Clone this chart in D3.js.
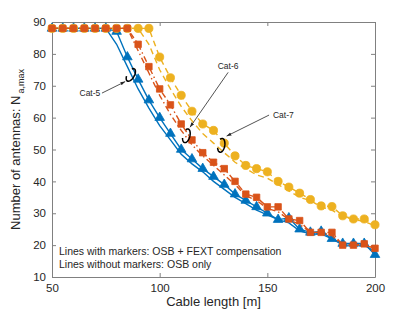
<!DOCTYPE html>
<html>
<head>
<meta charset="utf-8">
<script src="https://cdn.jsdelivr.net/npm/d3@7"></script>
<style>
  body { margin: 0; background: #fff; }
  text { font-family: "Liberation Sans", Arial, sans-serif; fill: #262626; }
</style>
</head>
<body>
<svg id="chart" width="415" height="312"></svg>
<script>
// cable length grid [m]
const lengths = d3.range(50, 201, 5);

// Cat-5 (blue)
const cat5Fext = [88,88,88,88,88,88,87,79,72,65.5,60,55,50,47,44,41.5,39,36,34,32,30,28,28.5,25,24,24.3,22,20.5,20.5,20.5,17];
const cat5Osb  = [88,88,88,88,88,88,83,76,69,63,57.5,53,48.5,45.5,43,40,37.5,35,33,31,29.5,28,27,24.5,23.5,23.5,22,20,20,20,18];
// Cat-6 (orange)
const cat6Fext = [88,88,88,88,88,88,88,88,83,76,69,64,58,53,49,46,44,40,36,35,32,32,28.2,27.7,24,24,24,20,20,20.4,19];
const cat6Osb  = [88,88,88,88,88,88,88,88,81,74,67,61,56,51.5,48,45,42,39,35.5,34,31.5,30.5,28,26.5,24,24,23,20,20,20,19];
// Cat-7 (yellow)
const cat7Fext = [88,88,88,88,88,88,88,88,88,88,79,72.5,67,62,58,56,52,48,45,44,43,40,38.2,36.3,34.3,32.3,32.1,29.2,28.2,28.2,26.4];
const cat7Osb  = [88,88,88,88,88,88,88,88,88,83,75,69,63.5,59,55,52,49,46,44,42,41,39,37,35,34,32,31,29,28,27.5,26];

const xTicks = [50, 100, 150, 200];
const yTicks = [10, 20, 30, 40, 50, 60, 70, 80, 90];

const svg = d3.select("#chart");
const W = +svg.attr("width"), H = +svg.attr("height");
const M = { top: 22, right: 40, bottom: 35, left: 52 };
const IW = W - M.left - M.right, IH = H - M.top - M.bottom;

const x = d3.scaleLinear().domain([50, 200]).range([0, IW]);
const y = d3.scaleLinear().domain([10, 90]).range([IH, 0]);

const g = svg.append("g").attr("transform", `translate(${M.left},${M.top})`);

// axes box with inward ticks on all four sides
const axisColor = "#808080";
function styleAxis(sel) {
  sel.select(".domain").attr("stroke", axisColor);
  sel.selectAll(".tick line").attr("stroke", axisColor);
  sel.selectAll(".tick text").attr("font-size", 11.5).attr("fill", "#262626");
}
g.append("g").attr("transform", `translate(0,${IH})`)
  .call(d3.axisBottom(x).tickValues(xTicks).tickSizeInner(-4).tickSizeOuter(0).tickPadding(7))
  .call(styleAxis);
g.append("g")
  .call(d3.axisTop(x).tickValues(xTicks).tickSizeInner(-4).tickSizeOuter(0).tickFormat(""))
  .call(styleAxis);
g.append("g")
  .call(d3.axisLeft(y).tickValues(yTicks).tickSizeInner(-4).tickSizeOuter(0).tickPadding(6))
  .call(styleAxis);
g.append("g").attr("transform", `translate(${IW},0)`)
  .call(d3.axisRight(y).tickValues(yTicks).tickSizeInner(-4).tickSizeOuter(0).tickFormat(""))
  .call(styleAxis);

// series
const blue = "#0072BD", orange = "#D95319", yellow = "#EDB120";
const series = [
  { vals: cat5Osb,  color: blue,   dash: null,        marker: null },
  { vals: cat5Fext, color: blue,   dash: null,        marker: "tri" },
  { vals: cat7Osb,  color: yellow, dash: "6,4",       marker: null },
  { vals: cat7Fext, color: yellow, dash: "6,4",       marker: "circ" },
  { vals: cat6Osb,  color: orange, dash: "6,3,1.5,3", marker: null },
  { vals: cat6Fext, color: orange, dash: "6,3,1.5,3", marker: "sq" }
];

const line = d3.line().x(d => x(d[0])).y(d => y(d[1]));
const sym = { tri: d3.symbolTriangle, circ: d3.symbolCircle, sq: d3.symbolSquare };
const symSize = { tri: 40, circ: 52, sq: 42 };

series.forEach(s => {
  const pts = lengths.map((l, i) => [l, s.vals[i]]);
  g.append("path")
    .attr("d", line(pts))
    .attr("fill", "none")
    .attr("stroke", s.color)
    .attr("stroke-width", 1.4)
    .attr("stroke-dasharray", s.dash);
  if (s.marker) {
    g.selectAll(null).data(pts).enter().append("path")
      .attr("transform", d => `translate(${x(d[0])},${y(d[1])})`)
      .attr("d", d3.symbol(sym[s.marker], symSize[s.marker]))
      .attr("fill", s.color)
      .attr("stroke", s.color)
      .attr("stroke-width", 0.8);
  }
});

// annotations (data coordinates)
svg.append("defs").append("marker")
  .attr("id", "arr").attr("viewBox", "0 0 10 10").attr("refX", 10).attr("refY", 5)
  .attr("markerWidth", 6).attr("markerHeight", 6).attr("orient", "auto")
  .append("path").attr("d", "M0,1.5L10,5L0,8.5Z").attr("fill", "#262626");

const notes = [
  { label: "Cat-5", tx: 67.6, ty: 67.7, anchor: "middle", from: [73.2, 67.7], to: [84, 71.3], c: [86.6, 73.4], rot: 30, arrow: true },
  { label: "Cat-6", tx: 131.8, ty: 76.3, anchor: "middle", from: [131.8, 74.2], to: [114.1, 57], c: [112.4, 54.3], rot: 15, arrow: true },
  { label: "Cat-7", tx: 152.6, ty: 60.8, anchor: "start", from: [150.8, 60.8], to: [131.1, 54.2], c: [128.6, 51.3], rot: 10, arrow: true }
];

notes.forEach(n => {
  g.append("text")
    .attr("x", x(n.tx))
    .attr("y", y(n.ty))
    .attr("dy", "0.35em")
    .attr("text-anchor", n.anchor)
    .attr("font-size", 8.5)
    .text(n.label);
  g.append("line")
    .attr("x1", x(n.from[0])).attr("y1", y(n.from[1]))
    .attr("x2", x(n.to[0])).attr("y2", y(n.to[1]))
    .attr("stroke", "#262626").attr("stroke-width", 0.8)
    .attr("marker-end", "url(#arr)");
  const cx = x(n.c[0]), cy = y(n.c[1]);
  const arcPts = d3.range(0.15, 1.75, 0.05).map(t => {
    const a = t * Math.PI;
    return [-3.5 * Math.cos(a), 7 * Math.sin(a)];
  });
  g.append("path")
    .attr("transform", `translate(${cx},${cy}) rotate(${n.rot})`)
    .attr("d", d3.line()(arcPts))
    .attr("fill", "none").attr("stroke", "#000").attr("stroke-width", 1.5);
});

// note text
g.append("text").attr("x", 7).attr("y", IH - 22).attr("font-size", 10.5)
  .text("Lines with markers: OSB + FEXT compensation");
g.append("text").attr("x", 7).attr("y", IH - 9).attr("font-size", 10.5)
  .text("Lines without markers: OSB only");

// axis labels
svg.append("text")
  .attr("x", M.left + IW / 2).attr("y", H - 6)
  .attr("text-anchor", "middle").attr("font-size", 13)
  .text("Cable length [m]");

const yl = svg.append("text")
  .attr("transform", `translate(20,${M.top + IH / 2}) rotate(-90)`)
  .attr("text-anchor", "middle").attr("font-size", 13);
yl.append("tspan").text("Number of antennas: N");
yl.append("tspan").attr("font-size", 9).attr("dy", 4).attr("dx", 2).text("a,max");
</script>
</body>
</html>
